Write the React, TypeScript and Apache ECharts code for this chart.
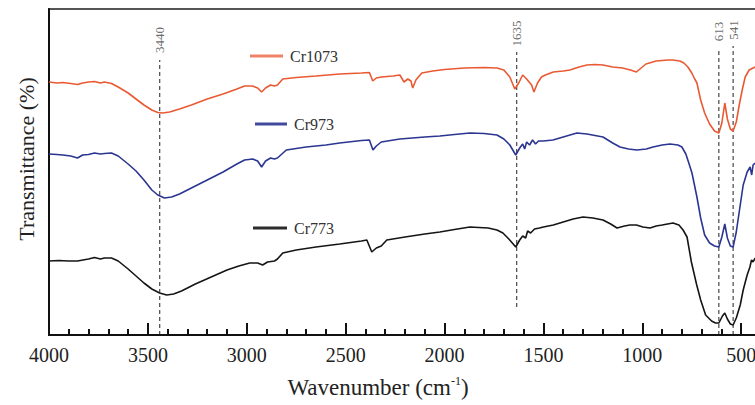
import { useEffect, useRef } from "react";
import * as echarts from "echarts";

// FTIR spectra: [wavenumber (cm-1), relative transmittance (offset units)]
const cr1073: [number, number][] = [
  [4000, 253], [3960, 252], [3930, 252.5], [3890, 251.5], [3856, 250.5], [3830, 252], [3800, 253], [3770, 253.5],
  [3740, 252], [3720, 253], [3684, 251.5], [3650, 248], [3600, 242], [3560, 236], [3520, 230], [3480, 225],
  [3450, 222.5], [3426, 222], [3390, 223], [3340, 226], [3280, 230], [3200, 236], [3120, 241], [3050, 246],
  [3011, 249], [2970, 249], [2945, 247], [2925, 243], [2905, 247], [2880, 250], [2860, 249], [2845, 250],
  [2818, 256], [2750, 257.5], [2650, 259], [2530, 261], [2420, 262], [2380, 262.5], [2363, 254], [2345, 257],
  [2320, 258], [2260, 259], [2226, 260], [2205, 253], [2186, 256], [2170, 254], [2161, 247], [2145, 255],
  [2115, 262], [2060, 264], [2000, 265.5], [1900, 267], [1800, 267.5], [1735, 267], [1700, 265], [1670, 258],
  [1645, 246], [1625, 252], [1605, 260], [1585, 256], [1560, 250], [1548, 243], [1530, 252], [1510, 258],
  [1490, 260], [1450, 263], [1400, 264], [1366, 265], [1320, 268], [1280, 270], [1240, 270.5], [1199, 270],
  [1150, 268], [1100, 267], [1060, 265], [1030, 263], [1000, 268], [982, 271], [930, 274], [870, 275],
  [845, 275], [810, 274], [790, 272], [770, 268], [750, 262], [735, 256], [724, 252], [705, 235], [685, 222],
  [660, 211], [635, 204], [613, 202], [598, 212], [583, 232], [570, 216], [555, 206], [541, 204], [525, 213],
  [510, 230], [495, 245], [480, 258], [460, 265], [430, 268],
];

const cr973: [number, number][] = [
  [4000, 181], [3960, 180.5], [3930, 180], [3890, 179], [3856, 177], [3830, 180], [3800, 180.5], [3770, 182],
  [3740, 181], [3720, 181.5], [3684, 182], [3650, 179], [3600, 171], [3560, 164], [3520, 155], [3480, 145],
  [3450, 140], [3416, 137], [3380, 138], [3340, 141], [3280, 147], [3200, 155], [3120, 163], [3050, 171],
  [3011, 175], [2970, 176], [2945, 174], [2925, 168], [2905, 174], [2880, 177], [2860, 176], [2845, 177],
  [2800, 185], [2700, 188], [2600, 190], [2530, 192], [2420, 194.5], [2380, 195], [2362, 185], [2345, 189],
  [2320, 193], [2226, 196], [2100, 198], [2024, 199], [1950, 200.5], [1872, 202], [1800, 201.5], [1735, 200],
  [1700, 196], [1670, 190], [1640, 180], [1620, 187], [1605, 191], [1595, 186], [1585, 193], [1570, 190],
  [1555, 195], [1540, 191], [1525, 194], [1500, 194], [1452, 195], [1400, 198], [1331, 202], [1280, 201],
  [1199, 198], [1150, 192], [1113, 188], [1070, 186], [1028, 185], [980, 186], [946, 188], [900, 190],
  [860, 191], [820, 190], [800, 188], [780, 181], [765, 172], [749, 162], [724, 138], [705, 117], [685, 100],
  [660, 92], [635, 89], [613, 88], [598, 98], [583, 111], [570, 97], [555, 89], [541, 88], [525, 103],
  [505, 130], [490, 150], [470, 163], [455, 168], [447, 160], [440, 170], [430, 172],
];

const cr773: [number, number][] = [
  [4000, 74], [3950, 74.5], [3900, 74], [3856, 74], [3800, 76], [3770, 77.5], [3740, 76], [3720, 77],
  [3684, 77], [3650, 74], [3600, 66], [3560, 59], [3520, 52], [3480, 46], [3441, 42], [3405, 40], [3370, 41],
  [3330, 44], [3260, 51], [3180, 58], [3100, 65], [3040, 69], [2985, 72], [2945, 72], [2920, 70], [2895, 73],
  [2860, 74], [2845, 76], [2818, 82], [2750, 85], [2650, 88], [2530, 91], [2420, 94], [2393, 95], [2368, 83],
  [2345, 87], [2320, 89], [2292, 95], [2200, 98], [2100, 101], [2024, 103], [1950, 105.5], [1872, 108],
  [1780, 107], [1735, 105], [1705, 102], [1675, 96], [1640, 88], [1620, 95], [1605, 99], [1590, 97],
  [1580, 104], [1565, 102], [1545, 106], [1520, 107], [1500, 108], [1450, 110], [1400, 113], [1350, 116],
  [1300, 118], [1250, 117], [1199, 115], [1160, 111], [1128, 107], [1090, 109], [1063, 110], [1030, 110],
  [997, 108], [961, 107], [930, 109], [900, 110], [845, 112], [815, 110], [794, 105], [774, 98], [752, 73],
  [725, 50], [705, 35], [680, 20], [650, 14], [630, 12], [613, 12], [595, 19], [583, 22], [570, 16],
  [555, 11], [541, 10], [525, 17], [505, 30], [490, 45], [470, 60], [456, 68], [448, 75], [440, 73], [430, 77],
];

// Marked band positions (dashed guide lines)
const peaks = [3440, 1635, 613, 541];
const peakLineTop = [275, 283, 287, 289];
const peakLineBottom = [0, 28, 0, 0];
const peakLabelY = [295, 301.5, 303.5, 305];

// x axis: 4000 -> 400 cm-1 (reversed), labels every 500, minor ticks every 100
const xMin = 400;
const xMax = 4000;
const majorMin = 0;
const majorStep = 500;
const minorStep = 100;

const seriesNames = ["Cr1073", "Cr973", "Cr773"];
const seriesColors = ["#e95a33", "#2b3592", "#151515"];

export default function App() {
  const ref = useRef<HTMLDivElement>(null);
  useEffect(() => {
    if (!ref.current) return;
    const chart = echarts.init(ref.current, undefined, { renderer: "svg" });
    const serif = "'Liberation Serif', 'Times New Roman', serif";
    const datasets = [cr1073, cr973, cr773];
    const W = 755;
    const gridLeft = 49;
    const gridRight = -6;
    // pixels per cm-1 of the main grid; the label grid uses the same scale from 0
    const k = (W - gridLeft - gridRight) / (xMax - xMin);
    const labelGridRight = W - gridLeft - k * (xMax - majorMin);

    const legendPos = [
      [250, 283, 56],
      [255, 287, 124],
      [253, 287, 228],
    ];
    const legendGraphics: any[] = [];
    seriesNames.forEach((n, i) => {
      const [x1, x2, y] = legendPos[i];
      legendGraphics.push({
        type: "line",
        shape: { x1, y1: y, x2, y2: y },
        style: { stroke: seriesColors[i], lineWidth: 3, opacity: i === 0 ? 0.75 : 0.9 },
      });
      legendGraphics.push({
        type: "text",
        x: x2 + 7,
        y,
        style: { text: n, fontFamily: serif, fontSize: 16, fill: "#333", verticalAlign: "middle", align: "left" },
      });
    });
    const option: any = {
      animation: false,
      grid: [
        { left: gridLeft, top: 9, right: gridRight, bottom: 70, show: true, borderColor: "#555", borderWidth: 2, outerBoundsMode: "none" },
        { left: gridLeft, top: 9, right: labelGridRight, bottom: 70, show: false, outerBoundsMode: "none" },
      ],
      graphic: legendGraphics,
      xAxis: [
        {
          type: "value",
          gridIndex: 0,
          min: xMin,
          max: xMax,
          interval: minorStep,
          inverse: true,
          position: "bottom",
          axisLine: { show: true, lineStyle: { color: "#111", width: 2 } },
          axisTick: { show: true, inside: true, length: 6, lineStyle: { color: "#111", width: 2 } },
          axisLabel: { show: false },
          splitLine: { show: false },
          name: "{a|Wavenumber (cm}{s|-1}{a|)}",
          nameLocation: "middle",
          nameGap: 40,
          nameTextStyle: {
            padding: [0, 54, 0, 0],
            rich: {
              a: { fontFamily: serif, fontSize: 23, color: "#222" },
              s: { fontFamily: serif, fontSize: 12, color: "#222", padding: [0, 0, 12, 0] },
            },
          },
        },
        {
          type: "value",
          gridIndex: 1,
          min: majorMin,
          max: xMax,
          interval: majorStep,
          inverse: true,
          position: "bottom",
          axisLine: { show: false },
          axisTick: { show: true, inside: true, length: 12, lineStyle: { color: "#111", width: 2 } },
          axisLabel: {
            show: true,
            margin: 10,
            fontSize: 20,
            fontFamily: serif,
            color: "#222",
            formatter: (v: number) => (v === majorMin ? "" : String(v)),
          },
          splitLine: { show: false },
        },
      ],
      yAxis: [
        {
          type: "value",
          gridIndex: 0,
          min: 0,
          max: 326,
          axisLine: { show: true, lineStyle: { color: "#111", width: 2 } },
          axisTick: { show: false },
          axisLabel: { show: false },
          splitLine: { show: false },
          name: "Transmittance (%)",
          nameLocation: "middle",
          nameGap: 12,
          nameTextStyle: { fontFamily: serif, fontSize: 22, color: "#222", padding: [0, 0, 0, 26] },
        },
        {
          type: "value",
          gridIndex: 1,
          min: 0,
          max: 326,
          show: false,
        },
      ],
      series: [
        ...seriesNames.map((n, i) => ({
          name: n,
          type: "line",
          data: datasets[i],
          symbol: "none",
          lineStyle: { color: seriesColors[i], width: 1.6 },
          itemStyle: { color: seriesColors[i] },
          z: 3,
        })),
        ...peaks.map((p, i) => ({
          name: "peak" + p,
          type: "line",
          data: [
            [p, peakLineBottom[i]],
            [p, peakLineTop[i]],
          ],
          symbol: "none",
          lineStyle: { color: "#222", width: 1, type: [4, 3] },
          z: 2,
        })),
        {
          name: "peakLabels",
          type: "scatter",
          symbolSize: 0,
          data: peaks.map((p, i) => [p, peakLabelY[i]]),
          label: {
            show: true,
            position: "inside",
            rotate: 90,
            formatter: (prm: any) => String(prm.value[0]),
            fontFamily: serif,
            fontSize: 13,
            color: "#444",
          },
        },
      ],
    };
    chart.setOption(option);
    return () => chart.dispose();
  }, []);
  return <div ref={ref} style={{ width: 755, height: 405, position: "absolute", left: 0, top: 0 }} />;
}
